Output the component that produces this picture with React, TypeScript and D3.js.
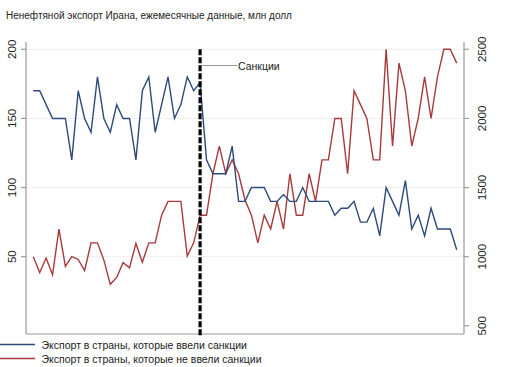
import React from 'react';
import * as d3 from 'd3';

// monthly non-oil exports of Iran, 67 months
const sanctionCountries = [
  170, 170, 160, 150, 150, 150, 120, 170, 150, 140, 180, 150, 140, 160, 150, 150, 120,
  170, 180, 140, 160, 180, 150, 160, 180, 170, 176, 120, 110, 110, 110, 130, 90, 90,
  100, 100, 100, 90, 90, 95, 90, 90, 100, 90, 90, 90, 90, 80, 85, 85, 90, 75, 75, 85,
  65, 100, 90, 80, 105, 70, 80, 65, 85, 70, 70, 70, 55,
];
const otherCountries = [
  1000, 885, 990, 870, 1200, 930, 1000, 980, 900, 1100, 1100, 975, 800, 850, 957, 920,
  1096, 960, 1100, 1100, 1300, 1400, 1400, 1400, 1005, 1100, 1300, 1300, 1600, 1800,
  1600, 1700, 1600, 1410, 1300, 1100, 1300, 1200, 1400, 1200, 1600, 1300, 1300, 1600,
  1400, 1700, 1700, 2000, 2000, 1600, 2200, 2100, 2000, 1700, 1700, 2500, 1800, 2400,
  2200, 1800, 2000, 2300, 2000, 2300, 2500, 2500, 2400,
];
const leftTicks = [50, 100, 150, 200];
const rightTicks = [500, 1000, 1500, 2000, 2500];
const sanctionIndex = 26;
const title = 'Ненефтяной экспорт Ирана, ежемесячные данные, млн долл';
const legendLabels = [
  'Экспорт в страны, которые ввели санкции',
  'Экспорт в страны, которые не ввели санкции',
];

const BLUE = '#2e4a7a';
const RED = '#a8393c';
const AXIS = '#9a9a9a';
const FONT = '"Liberation Sans", Arial, sans-serif';

export default function App() {
  const width = 520;
  const height = 367;
  const left = 26;
  const right = 464;
  const bottom = 334;
  const top = 42;

  const x = d3.scaleLinear().domain([0, sanctionCountries.length - 1]).range([33.3, 456.7]);
  const yL = d3.scaleLinear().domain([0, 200]).range([325.8, 49.3]);
  const yR = d3.scaleLinear().domain([500, 2500]).range([325.8, 49.3]);

  const lineL = d3.line<number>().x((_, i) => x(i)).y(d => yL(d));
  const lineR = d3.line<number>().x((_, i) => x(i)).y(d => yR(d));

  const sx = x(sanctionIndex);

  return (
    <svg width={width} height={height} style={{ position: 'absolute', left: 0, top: 0, background: '#fff' }}
      fontFamily={FONT}>
      <text x={6} y={19} fontSize={10} fill="#222">{title}</text>

      {/* grid */}
      {leftTicks.map(t => (
        <line key={'g' + t} x1={left} x2={right} y1={yL(t)} y2={yL(t)} stroke="#efefef" strokeWidth={1} />
      ))}

      {/* left axis */}
      <line x1={left} x2={left} y1={top} y2={bottom} stroke={AXIS} strokeWidth={1.2} />
      {leftTicks.map(t => (
        <g key={'l' + t}>
          <line x1={left - 5} x2={left} y1={yL(t)} y2={yL(t)} stroke={AXIS} strokeWidth={1.2} />
          <text transform={`translate(${15.5},${yL(t)}) rotate(-90)`} textAnchor="middle" fontSize={11.5} fill="#222">{t}</text>
        </g>
      ))}

      {/* right axis */}
      <line x1={right} x2={right} y1={top} y2={bottom} stroke={AXIS} strokeWidth={1.2} />
      {rightTicks.map(t => (
        <g key={'r' + t}>
          <line x1={right} x2={right + 5} y1={yR(t)} y2={yR(t)} stroke={AXIS} strokeWidth={1.2} />
          <text transform={`translate(${486},${yR(t)}) rotate(-90)`} textAnchor="middle" fontSize={11.5} fill="#222">{t}</text>
        </g>
      ))}

      {/* bottom axis */}
      <line x1={left} x2={right} y1={bottom} y2={bottom} stroke={AXIS} strokeWidth={1.2} />

      <path d={lineR(otherCountries) ?? ''} fill="none" stroke={RED} strokeWidth={1.4} />
      <path d={lineL(sanctionCountries) ?? ''} fill="none" stroke={BLUE} strokeWidth={1.4} />

      {/* sanctions marker */}
      <line x1={sx} x2={sx} y1={yL(200)} y2={bottom + 3} stroke="#000" strokeWidth={3.2} strokeDasharray="6,2" />
      <line x1={sx + 2} x2={237} y1={65.5} y2={65.5} stroke="#999" strokeWidth={1} />
      <text x={238} y={70} fontSize={10.5} fill="#222">Санкции</text>

      {/* legend */}
      <line x1={0} x2={35} y1={344.5} y2={344.5} stroke={BLUE} strokeWidth={1.4} />
      <text x={41.5} y={348.5} fontSize={10.5} fill="#222">{legendLabels[0]}</text>
      <line x1={0} x2={35} y1={358.5} y2={358.5} stroke={RED} strokeWidth={1.4} />
      <text x={41.5} y={362.5} fontSize={10.5} fill="#222">{legendLabels[1]}</text>
    </svg>
  );
}
